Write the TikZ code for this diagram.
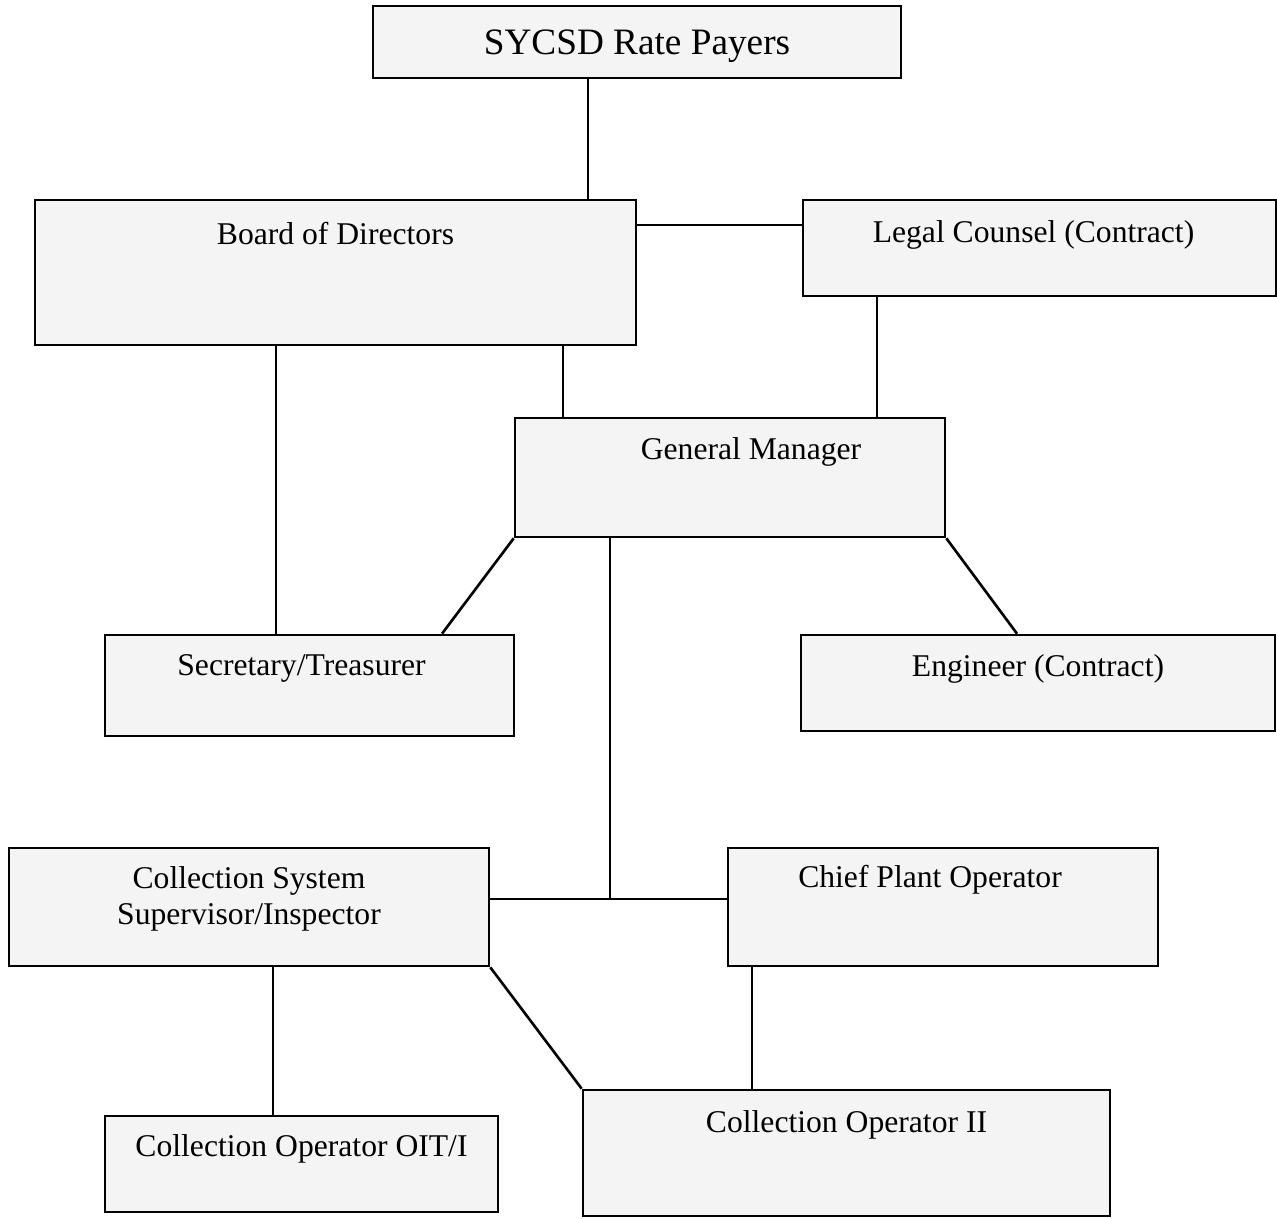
\documentclass[tikz,border=0pt]{standalone}
\usepackage{fontspec}
\setmainfont{Liberation Serif}
\begin{document}
\begin{tikzpicture}[
	orgbox/.style={draw, line width=0.75pt, fill=gray!9, inner sep=0pt},
	orgtext/.style={font=\fontsize{9}{10.3}\selectfont, align=center, inner sep=0pt},
	orgline/.style={line width=0.75pt}
	]
	\useasboundingbox (0,0) rectangle (12.77,-12.18);
	% Kaesten
	\node [orgbox, minimum width=5.28cm, minimum height=0.72cm] (rate) at (6.37,-0.42) {};
	\node [orgbox, minimum width=6.01cm, minimum height=1.45cm] (board) at (3.355,-2.725) {};
	\node [orgbox, minimum width=4.73cm, minimum height=0.96cm] (legal) at (10.395,-2.48) {};
	\node [orgbox, minimum width=4.30cm, minimum height=1.19cm] (gm) at (7.30,-4.775) {};
	\node [orgbox, minimum width=4.09cm, minimum height=1.01cm] (sec) at (3.095,-6.855) {};
	\node [orgbox, minimum width=4.74cm, minimum height=0.96cm] (eng) at (10.38,-6.83) {};
	\node [orgbox, minimum width=4.80cm, minimum height=1.18cm] (css) at (2.49,-9.07) {};
	\node [orgbox, minimum width=4.30cm, minimum height=1.18cm] (cpo) at (9.43,-9.07) {};
	\node [orgbox, minimum width=3.93cm, minimum height=0.96cm] (oit) at (3.015,-11.64) {};
	\node [orgbox, minimum width=5.27cm, minimum height=1.26cm] (op2) at (8.465,-11.53) {};
	% Texte
	\node [orgtext, font=\fontsize{10.6}{12}\selectfont] (ratetext) at ([yshift=-0.04cm]rate.center) {SYCSD Rate Payers};
	\node [orgtext] (boardtext) at ([yshift=-0.35cm]board.north) {Board of Directors};
	\node [orgtext] (legaltext) at ([xshift=-0.06cm,yshift=-0.36cm]legal.north) {Legal Counsel (Contract)};
	\node [orgtext] (gmtext) at ([xshift=0.21cm,yshift=-0.35cm]gm.north) {General Manager};
	\node [orgtext] (sectext) at ([xshift=-0.08cm,yshift=-0.35cm]sec.north) {Secretary/Treasurer};
	\node [orgtext] (engtext) at ([yshift=-0.35cm]eng.north) {Engineer (Contract)};
	\node [orgtext] (csstext) at ([yshift=-0.52cm]css.north) {Collection System\\Supervisor/Inspector};
	\node [orgtext] (cpotext) at ([xshift=-0.13cm,yshift=-0.33cm]cpo.north) {Chief Plant Operator};
	\node [orgtext] (oittext) at ([yshift=-0.34cm]oit.north) {Collection Operator OIT/I};
	\node [orgtext] (op2text) at ([yshift=-0.36cm]op2.north) {Collection Operator II};
	%%%% Verbindungen
	\draw [orgline] (rate.south -| 5.88,0) -- (board.north -| 5.88,0);
	\draw [orgline] (board.east |- 0,-2.25) -- (legal.west |- 0,-2.25);
	\draw [orgline] (board.south -| 5.63,0) -- (gm.north -| 5.63,0);
	\draw [orgline] (legal.south -| 8.77,0) -- (gm.north -| 8.77,0);
	\draw [orgline] (board.south -| 2.76,0) -- (sec.north -| 2.76,0);
	\draw [orgline] (gm.south west) -- (sec.north -| 4.42,0);
	\draw [orgline] (gm.south east) -- (eng.north -| 10.17,0);
	% Mitte runter
	\coordinate (junction) at (6.10,-8.99);
	\draw [orgline] (gm.south -| junction) -- (junction);
	\draw [orgline] (css.east |- junction) -- (cpo.west |- junction);
	% unten
	\draw [orgline] (css.south -| 2.73,0) -- (oit.north -| 2.73,0);
	\draw [orgline] (css.south east) -- (op2.north west);
	\draw [orgline] (cpo.south -| 7.52,0) -- (op2.north -| 7.52,0);
\end{tikzpicture}
\end{document}
